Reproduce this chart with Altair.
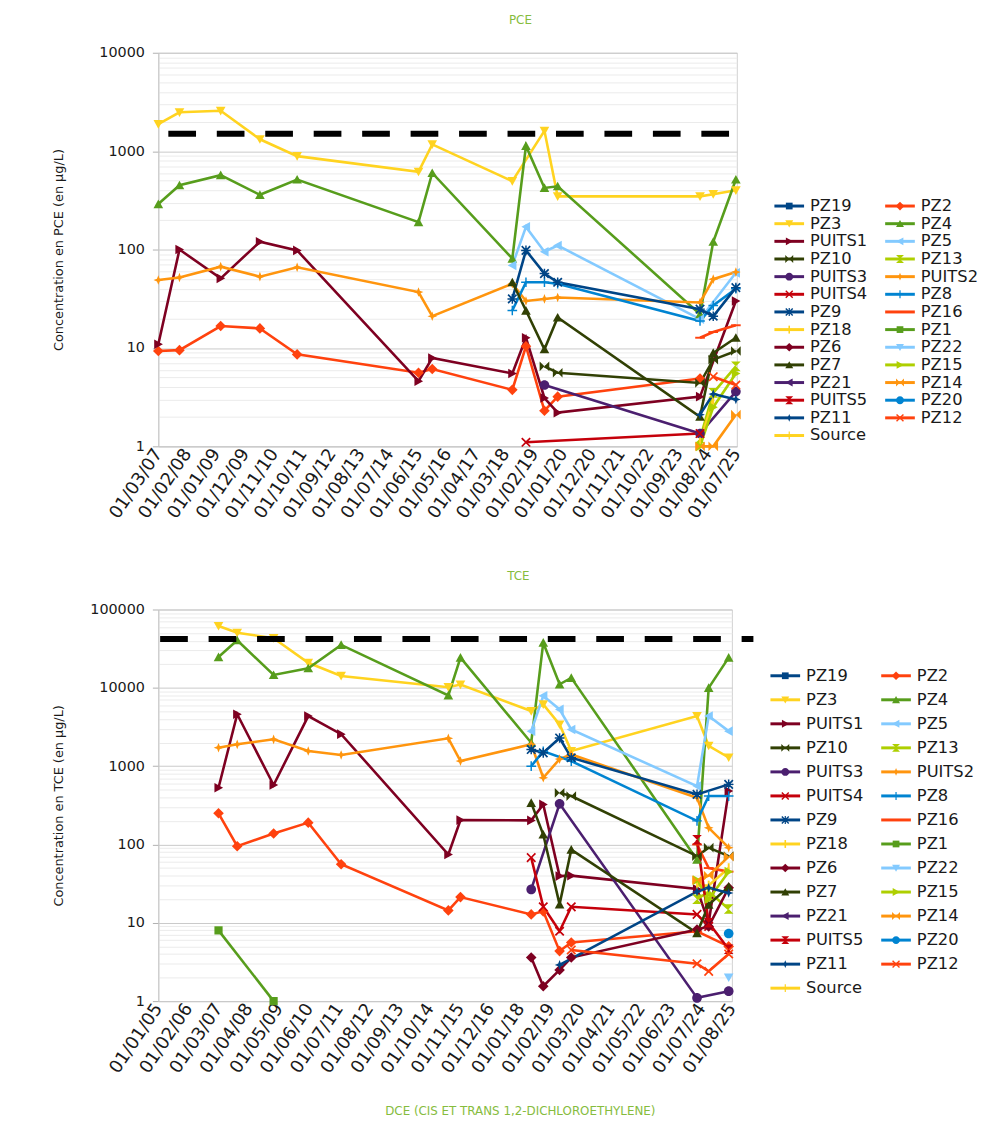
import altair as alt
import pandas as pd

N = None

# ---------------- series and sampling campaigns ----------------
SERIES = ["PZ19", "PZ2", "PZ3", "PZ4", "PUITS1", "PZ5", "PZ10", "PZ13", "PUITS3", "PUITS2",
          "PUITS4", "PZ8", "PZ9", "PZ16", "PZ18", "PZ1", "PZ6", "PZ22", "PZ7", "PZ15",
          "PZ21", "PZ14", "PUITS5", "PZ20", "PZ11", "PZ12", "Source"]

DATES = ["2007-03-01", "2007-11-01", "2009-02-20", "2010-05-20", "2011-07-25", "2015-05-30",
         "2015-11-05", "2018-05-20", "2018-10-25", "2019-05-27", "2019-10-27", "2024-05-01",
         "2024-10-01", "2025-06-20"]

# ---------------- PCE (ug/L) ----------------
PCE_PZ3 = [1880, 2480, 2570, 1320, 890, 617, 1170, 495, N, 1610, 347, 347, 365, 400]
PCE_PZ4 = [290, 450, 570, 360, 515, 190, 600, 81, 1130, 423, 440, 22, 120, 515]
PCE_PUITS1 = [10.9, 100, 51, 120, 98, 4.6, 7.9, 5.5, 12.7, 3.1, 2.2, 3.2, N, 30]
PCE_PUITS2 = [49, 52, 67, 53, 66, 37, 21, 45, 30, 31.5, 32.6, 29, 50, 59]
PCE_PZ2 = [9.3, 9.5, 16.7, 15.8, 8.6, 5.6, 6.1, 3.75, 10.4, 2.3, 3.2, 4.9, N, N]
PCE_PZ5 = [N, N, N, N, N, N, N, 69, 170, 95, 110, 19.6, N, 58]
PCE_PZ9 = [N, N, N, N, N, N, N, 31.5, 98, 57, 46.5, 24.8, 21, 41]
PCE_PZ8 = [N, N, N, N, N, N, N, 24, 46.5, 46.5, 45, 18.8, 27, 40]
PCE_PZ7 = [N, N, N, N, N, N, N, 46.5, 24, 9.7, 20.4, 2.0, 8.9, 12.7]
PCE_PZ10 = [N, N, N, N, N, N, N, N, N, 6.5, 5.6, 4.4, 7.6, 9.3]
PCE_PUITS3 = [N, N, N, N, N, N, N, N, N, 4.2, N, 1.35, N, 3.6]
PCE_PUITS4 = [N, N, N, N, N, N, N, N, 1.1, N, N, 1.35, N, N]
PCE_PZ11 = [N, N, N, N, N, N, N, N, N, N, N, 2.1, 3.4, 3.0]
PCE_PZ16 = [N, N, N, N, N, N, N, N, N, N, N, 12.7, 14.5, 17]
PCE_PZ13 = [N, N, N, N, N, N, N, N, N, N, N, 1.2, 3.5, 6.5]
PCE_PZ15 = [N, N, N, N, N, N, N, N, N, N, N, 1.0, 2.5, 5.5]
PCE_PZ14 = [N, N, N, N, N, N, N, N, N, N, N, 1.0, 1.0, 2.1]
PCE_PZ12 = [N, N, N, N, N, N, N, N, N, N, N, N, 5.1, 4.2]
PCE_PZ18 = [N, N, N, N, N, N, N, N, N, N, N, 1.1, 3.0, N]

# ---------------- TCE (ug/L) ----------------
TCE_PZ1 = [8, N, 1.0, N, N, N, N, N, N, N, N, N, N, N]
TCE_PZ3 = [61600, 50500, 43000, 20900, 14200, 10200, 11000, 5050, 6150, 3400, 1560, 4370, 1820, 1290]
TCE_PZ4 = [24700, 40500, 14600, 17800, 35300, 8000, 24300, 1990, 37700, 11100, 13400, 64, 10000, 24300]
TCE_PUITS1 = [530, 4600, 575, 4360, 2560, 74.5, 205, 203, 325, 39.5, 40, 27, 10, 480]
TCE_PUITS2 = [1720, 1900, 2200, 1560, 1390, 2265, 1160, 1900, 710, 1230, 1410, 395, 163, 91]
TCE_PZ2 = [250, 95, 138, 190, 56, 14.4, 21.3, 12.8, 14, 4.35, 5.6, 7.8, N, 5.0]
TCE_PZ5 = [N, N, N, N, N, N, N, 2800, 7900, 5300, 2940, 556, 4370, 2800]
TCE_PZ9 = [N, N, N, N, N, N, N, 1630, 1480, 2290, 1280, 436, N, 585]
TCE_PZ8 = [N, N, N, N, N, N, N, 1000, 1550, N, 1160, 200, 415, 415]
TCE_PZ10 = [N, N, N, N, N, N, N, N, N, 456, 415, 71, 91, 71]
TCE_PZ7 = [N, N, N, N, N, N, N, 340, 134, 17.2, 86, 7.4, 17, 29]
TCE_PUITS3 = [N, N, N, N, N, N, N, 26.7, N, 330, N, 1.1, N, 1.34]
TCE_PUITS4 = [N, N, N, N, N, N, N, 68, 16, 7.8, 16, 12.8, 9, N]
TCE_PZ6 = [N, N, N, N, N, N, N, 3.6, 1.55, 2.5, 3.6, 8.2, 9, 28]
TCE_PZ11 = [N, N, N, N, N, N, N, N, N, 2.9, N, 25, 28, 24]
TCE_PZ12 = [N, N, N, N, N, N, N, N, N, N, 4.5, 3.0, 2.4, 4.0]
TCE_PUITS5 = [N, N, N, N, N, N, N, N, N, N, N, 115, 10, 4.6]
TCE_PZ16 = [N, N, N, N, N, N, N, N, N, N, N, 100, 50, 45]
TCE_PZ13 = [N, N, N, N, N, N, N, N, N, N, N, 20, 25, 15]
TCE_PZ15 = [N, N, N, N, N, N, N, N, N, N, N, 35, 20, 45]
TCE_PZ14 = [N, N, N, N, N, N, N, N, N, N, N, 35, 40, 70]
TCE_PZ18 = [N, N, N, N, N, N, N, N, N, N, N, 30, 30, 50]
TCE_PZ20 = [N, N, N, N, N, N, N, N, N, N, N, N, N, 7.3]
TCE_PZ22 = [N, N, N, N, N, N, N, N, N, N, N, N, N, 2.0]

# ---------------- axes, limits, texts ----------------
PCE_TICKS = ["2007-03-01", "2008-02-01", "2009-01-01", "2009-12-01", "2010-11-01", "2011-10-01",
             "2012-09-01", "2013-08-01", "2014-07-01", "2015-06-01", "2016-05-01", "2017-04-01",
             "2018-03-01", "2019-02-01", "2020-01-01", "2020-12-01", "2021-11-01", "2022-10-01",
             "2023-09-01", "2024-08-01", "2025-07-01"]
TCE_TICKS = ["2005-01-01", "2006-02-01", "2007-03-01", "2008-04-01", "2009-05-01", "2010-06-01",
             "2011-07-01", "2012-08-01", "2013-09-01", "2014-10-01", "2015-11-01", "2016-12-01",
             "2018-01-01", "2019-02-01", "2020-03-01", "2021-04-01", "2022-05-01", "2023-06-01",
             "2024-07-01", "2025-08-01"]
PCE_RANGE = ["2007-03-01", "2025-07-01"]
TCE_RANGE = ["2005-01-01", "2025-08-01"]
PCE_YMAX = 10000
TCE_YMAX = 100000
PCE_LIMIT = 1500
PCE_LIMIT_SPAN = ["2007-06-25", "2025-04-12"]
TCE_LIMIT = 42000
TCE_LIMIT_SPAN = ["2005-01-25", "2026-05-10"]

PCE_TITLE = "PCE"
TCE_TITLE = "TCE"
DCE_TITLE = "DCE (CIS ET TRANS 1,2-DICHLOROETHYLENE)"
PCE_YTITLE = "Concentration en PCE (en µg/L)"
TCE_YTITLE = "Concentration en TCE (en µg/L)"

# ---------------- styles ----------------
PALETTE = ["#004586", "#ff420e", "#ffd320", "#579d1c", "#7e0021", "#83caff",
           "#314004", "#aecf00", "#4b1f6f", "#ff950e", "#c5000b", "#0084d1"]
PLUS = "M-0.15,-1H0.15V-0.15H1V0.15H0.15V1H-0.15V0.15H-1V-0.15H-0.15Z"
XMARK = "M-1,-0.75L-0.75,-1L0,-0.25L0.75,-1L1,-0.75L0.25,0L1,0.75L0.75,1L0,0.25L-0.75,1L-1,0.75L-0.25,0Z"
MARKERS = [
    "M-0.85,-0.85H0.85V0.85H-0.85Z",                 # square
    "M0,-1.1L1.1,0L0,1.1L-1.1,0Z",                   # diamond
    "M-1,-0.85H1L0,0.95Z",                           # down arrow
    "M-1,0.85H1L0,-0.95Z",                           # up arrow
    "M-0.85,-1L0.95,0L-0.85,1Z",                     # right arrow
    "M0.85,-1L-0.95,0L0.85,1Z",                      # left arrow
    "M-1,-1V1L0,0Z M1,-1V1L0,0Z",                    # bowtie
    "M-1,-1H1L0,0Z M-1,1H1L0,0Z",                    # hourglass
    "M1,0A1,1,0,1,1,-1,0A1,1,0,1,1,1,0Z",            # circle
    "M0,-1L0.28,-0.28L1,0L0.28,0.28L0,1L-0.28,0.28L-1,0L-0.28,-0.28Z",  # star
    XMARK,                                           # x
    PLUS,                                            # plus
    PLUS + " " + XMARK,                              # asterisk
    "M-1,-0.2H1V0.2H-1Z",                            # horizontal bar
    "M-0.2,-1H0.2V1H-0.2Z",                          # vertical bar
]
COLORS = [PALETTE[i % len(PALETTE)] for i in range(len(SERIES))]
SHAPES = [MARKERS[i % len(MARKERS)] for i in range(len(SERIES))]

FONT = "DejaVu Sans"
TITLE_GREEN = "#86bc3d"
TEXT = "#1a1a1a"


def ms(d):
    return int(pd.Timestamp(d, tz="UTC").value // 10**6)


COLOR_SCALE = alt.Scale(domain=SERIES, range=COLORS)
SHAPE_SCALE = alt.Scale(domain=SERIES, range=SHAPES)


def panel(prefix, ytitle, ticks, rng, ymax, limit, span, width, height, title_pad):
    rows = []
    for name in SERIES:
        vals = globals().get(f"{prefix}_{name}")
        if vals is None:
            continue
        for d, v in zip(DATES, vals):
            if v is not None:
                rows.append({"series": name, "date": ms(d), "value": v})
    df = pd.DataFrame(rows)

    majors = []
    v = 1
    while v <= ymax:
        majors.append(v)
        v *= 10
    minors = [m * p for p in majors for m in range(1, 10) if m * p <= ymax]
    test = f"indexof({majors}, datum.value) >= 0"

    def X(field):
        return alt.X(
            f"{field}:T",
            scale=alt.Scale(type="utc", domain=[ms(rng[0]), ms(rng[1])]),
            axis=alt.Axis(values=[ms(t) for t in ticks], format="%d/%m/%y", labelAngle=-56,
                          labelAlign="right", labelBaseline="middle", labelFont=FONT,
                          labelFontSize=18, labelColor=TEXT, labelPadding=4,
                          labelOverlap=False, labelBound=False, grid=False, ticks=False,
                          domainColor="#c8c8c8"),
            title=None,
        )

    def Y(field):
        return alt.Y(
            f"{field}:Q",
            scale=alt.Scale(type="log", domain=[1, ymax], nice=False),
            axis=alt.Axis(values=minors,
                          labelExpr=f"{test} ? format(datum.value, 'd') : ''",
                          labelFont=FONT, labelFontSize=14.5, labelColor=TEXT,
                          labelPadding=8, labelOverlap=False,
                          gridColor={"condition": {"test": test, "value": "#c9c9c9"}, "value": "#ebebeb"},
                          tickOpacity={"condition": {"test": test, "value": 1}, "value": 0},
                          tickSize=6, tickColor="#b0b0b0", domainColor="#c8c8c8",
                          titleFont=FONT, titleFontSize=13, titleFontWeight="normal",
                          titleColor=TEXT, titlePadding=title_pad),
            title=ytitle,
        )

    color = alt.Color("series:N", scale=COLOR_SCALE, legend=None)
    shape = alt.Shape("series:N", scale=SHAPE_SCALE, legend=None)
    base = alt.Chart(df).encode(x=X("date"), y=Y("value"), color=color)
    lines = base.mark_line(strokeWidth=2.6)
    pts = base.mark_point(filled=True, size=95, opacity=1).encode(shape=shape)
    lim_df = pd.DataFrame({"start": [ms(span[0])], "end": [ms(span[1])], "limit": [limit]})
    lim = alt.Chart(lim_df).mark_rule(color="black", strokeWidth=6, strokeDash=[28, 21],
                                      strokeCap="butt").encode(
        x=X("start"), x2="end:T", y=Y("limit"))
    return alt.layer(lines, pts, lim).properties(
        width=width, height=height, view=alt.ViewBackground(stroke="#d0d0d0"))


LEG_W = 222


def legend(first_px, step, height):
    ldf = pd.DataFrame([{"series": s, "col": i % 2, "row": i // 2} for i, s in enumerate(SERIES)])
    d0 = -first_px / step
    d1 = (height - first_px) / step
    x = alt.X("col:Q", scale=alt.Scale(domain=[-20 / 112, (LEG_W - 20) / 112], nice=False, zero=False), axis=None)
    y = alt.Y("row:Q", scale=alt.Scale(domain=[d0, d1], reverse=True, nice=False, zero=False), axis=None)
    color = alt.Color("series:N", scale=COLOR_SCALE, legend=None)
    shape = alt.Shape("series:N", scale=SHAPE_SCALE, legend=None)
    base = alt.Chart(ldf).encode(x=x, y=y)
    seg = base.mark_point(shape="M-1,0H1", size=900, filled=False, strokeWidth=3, opacity=1).encode(color=color)
    mk = base.mark_point(filled=True, size=64, opacity=1).encode(color=color, shape=shape)
    txt = base.mark_text(align="left", baseline="middle", dx=21, font=FONT, fontSize=16.5,
                         color=TEXT).encode(text="series:N")
    return alt.layer(seg, mk, txt).properties(
        width=LEG_W, height=height, view=alt.ViewBackground(strokeOpacity=0))


def group_title(t):
    return alt.TitleParams(t, font=FONT, fontSize=12, fontWeight="normal", color=TITLE_GREEN,
                           anchor="middle", offset=18)


top = alt.hconcat(
    panel("PCE", PCE_YTITLE, PCE_TICKS, PCE_RANGE, PCE_YMAX, PCE_LIMIT, PCE_LIMIT_SPAN, 585, 398, 34),
    legend(155, 17.85, 398),
    spacing=24, title=group_title(PCE_TITLE))

bottom = alt.hconcat(
    panel("TCE", TCE_YTITLE, TCE_TICKS, TCE_RANGE, TCE_YMAX, TCE_LIMIT, TCE_LIMIT_SPAN, 580, 396, 25),
    legend(67, 24.3, 396),
    spacing=7, title=group_title(TCE_TITLE))

chart = alt.concat(
    top, bottom, columns=1, align="none", spacing=48,
    title=alt.TitleParams(DCE_TITLE, orient="bottom", anchor="middle", font=FONT, fontSize=12,
                          fontWeight="normal", color=TITLE_GREEN, offset=30),
).properties(
    padding={"left": 44, "top": -1, "right": 0, "bottom": 0},
    background="white",
)

chart.save("out.html", embed_options={"renderer": "svg", "actions": False})
